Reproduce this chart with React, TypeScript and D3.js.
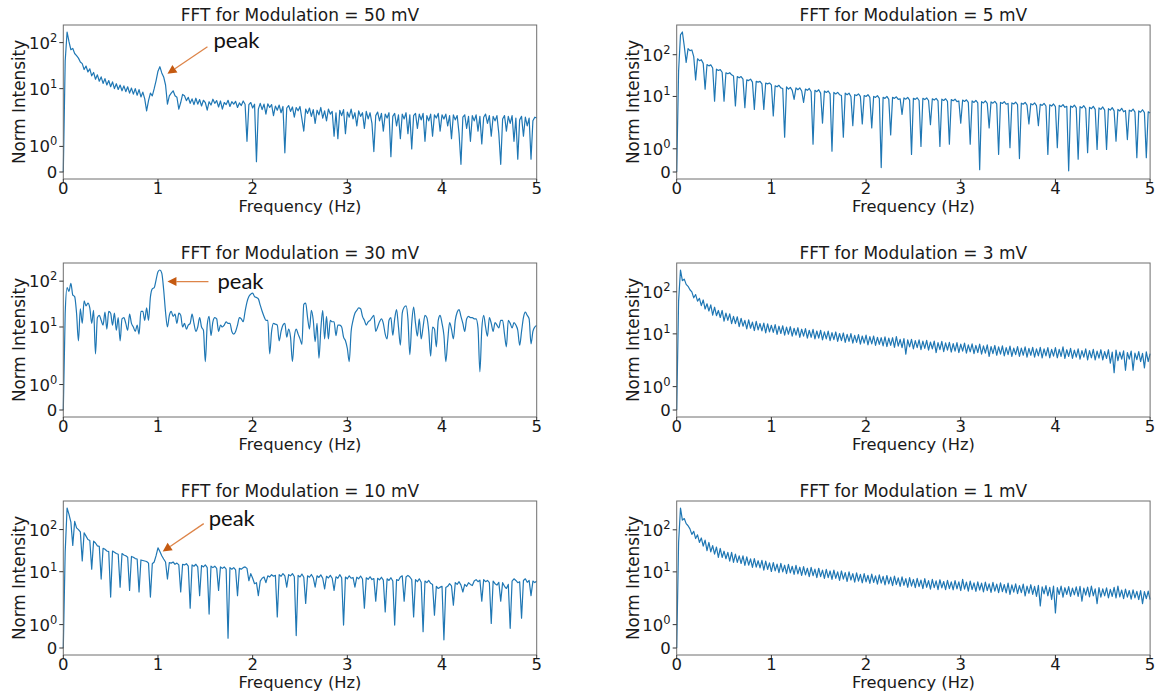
import React from "react";
import * as d3 from "d3";

// FFT bins are evenly spaced, 0 .. 5 Hz
const FREQ_STEP = 0.02;
const xTicks = [0, 1, 2, 3, 4, 5];
const yTicks = [0, 1, 10, 100];

// Norm intensity per bin
const mod50 = [
  0, 40, 170, 105, 70, 75, 58, 52, 46, 38,
  35, 26, 31, 23, 27, 19, 22.5, 16, 20, 14.5,
  18, 13, 16.5, 12, 15, 11, 14, 10, 12.8, 9.6,
  12, 9, 11.5, 8.6, 11, 8, 10.3, 7.6, 10, 7.2,
  9.5, 6.6, 8.4, 6, 3.3, 5.5, 8, 7, 10, 15,
  24, 30, 22, 18, 12, 4.6, 7, 8, 9, 7,
  6.5, 3.6, 5, 7.5, 7, 5.5, 6.5, 4.8, 6, 4.5,
  6.2, 4.6, 5.8, 4.2, 5.6, 5.0, 3.4, 5.2, 4.4, 5.9,
  4.8, 5.5, 4.0, 5.4, 3.6, 5.0, 4.5, 5.6, 4.1, 5.2,
  4.6, 5.3, 3.9, 4.9, 4.3, 5.4, 4.6, 1.2, 4.5, 5.0,
  3.8, 4.6, 0.4, 3.6, 4.8, 3.5, 4.6, 2.8, 4.7, 3.9,
  4.5, 2.6, 4.2, 3.4, 4.4, 3.0, 4.1, 0.75, 3.8, 4.3,
  3.2, 4.0, 2.4, 3.9, 3.3, 4.1, 2.2, 1.6, 3.6, 2.9,
  3.8, 2.5, 3.5, 1.9, 3.4, 2.7, 3.9, 2.3, 3.3, 2.0,
  3.6, 2.8, 3.2, 1.4, 3.0, 1.3, 3.4, 2.6, 3.5, 1.5,
  3.1, 2.4, 3.6, 2.2, 3.0, 1.8, 3.3, 2.5, 3.0, 1.7,
  3.2, 2.2, 3.0, 1.9, 0.8, 2.6, 3.1, 2.0, 2.9, 1.6,
  2.8, 2.3, 3.0, 0.6, 2.5, 2.9, 1.8, 2.7, 1.3, 2.8,
  2.2, 3.0, 1.5, 2.7, 0.9, 2.6, 2.9, 1.7, 2.8, 2.1,
  2.9, 1.2, 2.6, 2.0, 2.8, 1.4, 2.7, 2.3, 2.9, 1.6,
  2.7, 2.2, 2.8, 1.8, 2.6, 1.3, 2.7, 2.1, 2.6, 1.5,
  0.3, 2.4, 2.7, 1.7, 2.5, 1.2, 2.6, 2.0, 2.7, 1.6,
  2.5, 1.1, 2.4, 2.8, 1.9, 2.6, 1.4, 2.5, 2.0, 2.6,
  1.5, 0.3, 2.2, 2.6, 1.6, 2.5, 1.9, 2.6, 1.2, 2.3,
  0.5, 2.1, 2.5, 1.4, 2.4, 1.8, 2.3, 0.5, 2.0, 2.4,
  2.3,
];

const mod5 = [
  0, 40, 300, 350, 160, 65, 140, 125, 130, 90,
  25, 80, 72, 76, 62, 15, 58, 54, 57, 48,
  7.7, 45, 42, 44, 38, 7.7, 37, 35, 37, 33,
  31, 5.9, 30, 28, 30, 26, 5.4, 25, 24, 26,
  22, 4.9, 23, 22, 23, 20, 4.9, 21, 20, 21,
  19, 3.4, 18, 17, 18.5, 16, 15.5, 1.5, 17, 15,
  16.5, 14, 8.5, 16, 14.5, 16, 13.5, 7.2, 15, 14,
  15.5, 13, 1.2, 14, 13, 14.5, 12, 2.3, 13.5, 12.5,
  13.5, 11.5, 0.9, 12.5, 11.5, 12.5, 11, 10.5, 1.5, 12,
  11, 12, 10, 2.0, 11, 10.5, 11.5, 10, 2.2, 10.5,
  10, 11, 9.5, 1.9, 10, 9.5, 10.5, 9, 0.19, 9.5,
  9, 10, 8.5, 1.6, 9.5, 9, 9.8, 8.5, 8.8, 3.7,
  9.2, 8.6, 9.5, 8.2, 0.76, 9, 8.5, 9.3, 8, 1.1,
  9, 8.4, 9.2, 8, 2.1, 8.8, 8.2, 9, 7.8, 1.1,
  8.6, 8, 8.8, 7.6, 1.2, 8.4, 7.9, 8.6, 7.5, 7.8,
  2.3, 8.2, 7.6, 8.3, 7.2, 1.2, 7.8, 7.2, 8, 7,
  0.1, 7.5, 7, 7.8, 6.8, 1.9, 7.4, 6.9, 7.6, 6.6,
  0.76, 7.2, 6.8, 7.5, 6.5, 6.8, 1.05, 7, 6.6, 7.3,
  6.4, 0.58, 6.9, 6.5, 7.2, 6.2, 2.2, 6.7, 6.3, 7,
  6, 2.0, 6.5, 6.1, 6.8, 5.9, 0.76, 6.3, 5.9, 6.6,
  5.7, 1.05, 6.1, 5.7, 6.4, 5.5, 5.8, 0.05, 5.9, 5.5,
  6.2, 5.3, 0.55, 5.7, 5.3, 6, 5.1, 0.83, 5.5, 5.1,
  5.8, 4.9, 0.97, 5.3, 4.9, 5.6, 4.7, 0.97, 5.1, 4.7,
  5.4, 4.5, 1.33, 4.9, 4.5, 5.2, 4.3, 4.6, 1.4, 4.7,
  4.4, 5, 4.2, 0.62, 4.5, 4.2, 4.8, 4.1, 0.62, 4.3,
  4.0,
];

const mod30 = [
  0, 20, 72, 60, 90, 50, 46, 20, 5, 25,
  12, 37, 29, 33, 26, 12, 23, 2.6, 16, 18,
  14, 11, 21, 9, 22, 20, 11, 20, 8.5, 16,
  5, 15, 16, 12, 8.5, 19, 12, 10, 8, 11,
  7, 22, 22, 14, 26, 14, 45, 68, 72, 107,
  160, 175, 150, 65, 21, 10, 18, 22, 17, 19,
  12, 20, 18, 10, 12, 9, 11, 12, 19, 12,
  8, 10, 16, 10, 8.5, 1.9, 11, 17, 6.5, 13,
  16, 15, 8, 11, 10, 11, 13, 12, 12, 8,
  7, 8, 11, 16, 15, 13, 22, 35, 46, 52,
  55, 46, 44, 41, 30, 22, 17, 14, 14, 2.6,
  8, 12, 11.5, 11, 5, 8, 11, 12, 6, 9,
  6, 1.9, 6, 9, 7, 5.5, 4.2, 31, 33, 16,
  9, 23, 14, 4.8, 12, 2.1, 9, 23, 5.5, 17,
  5.5, 14, 13, 13, 6.5, 11, 11, 10, 6, 5,
  3.4, 1.9, 8, 14, 20, 23, 26, 25, 17, 14,
  11, 13, 14, 16, 18, 8, 10, 13, 15, 12,
  7, 5.5, 14, 16, 6.6, 15, 24, 10, 4, 20,
  27, 29, 15, 2.5, 12, 27, 12, 6.3, 15, 5.5,
  10, 18, 16, 8, 2.3, 10, 9, 3.7, 14, 18,
  12, 6.6, 1.9, 5, 12.5, 9, 5.5, 14, 21, 24,
  17, 12, 8, 15, 17, 16, 16, 15, 15, 9.5,
  1.5, 9, 18, 10, 6.3, 16, 12, 8, 12.5, 11,
  9.5, 14, 14, 7, 3.7, 14, 12, 9.5, 12.5, 11,
  8.5, 4, 8, 16, 21, 18, 15, 4.3, 8, 10,
  10.8,
];

const mod3 = [
  0, 60, 330, 185, 200, 150, 135, 112, 100, 72,
  86, 60, 70, 47, 64, 39, 52, 35, 49, 28,
  43, 27, 36, 24.5, 36, 20, 31, 21, 30, 17.5,
  26, 17.5, 25.5, 14.8, 23.5, 15.2, 21, 13.2, 21.5, 13.6,
  19, 12, 19.8, 12.4, 17.6, 11.8, 18, 10.6, 17.4, 11.2,
  16, 10.8, 16.6, 9.7, 15.2, 10.2, 15.6, 9.3, 14.4, 9.8,
  14.8, 8.8, 13.6, 9.3, 14, 8.3, 12.9, 8.8, 13.4, 7.9,
  12.2, 8.3, 12.8, 7.6, 11.7, 7.9, 12.2, 7.2, 11.2, 7.6,
  11.6, 6.9, 10.7, 7.3, 11.1, 6.6, 10.2, 6.9, 10.5, 6.3,
  9.7, 6.6, 10.1, 6.0, 9.2, 6.3, 9.6, 5.7, 8.9, 6.0,
  9.3, 5.5, 8.6, 5.8, 8.9, 5.3, 8.3, 5.6, 8.1, 5.2,
  8.5, 5.0, 7.9, 5.3, 8.1, 4.8, 8.6, 5.1, 7.4, 4.7,
  7.7, 3.3, 7.2, 4.9, 7.4, 4.4, 6.9, 4.7, 7.2, 4.2,
  6.7, 4.5, 7.0, 4.1, 6.4, 4.4, 6.7, 3.6, 6.2, 4.2,
  6.6, 3.8, 6.1, 4.1, 6.3, 3.7, 5.9, 3.9, 6.2, 3.6,
  5.7, 3.9, 6.0, 3.5, 5.5, 3.75, 5.8, 3.4, 5.3, 3.6,
  5.7, 3.3, 5.2, 3.5, 5.5, 2.9, 5.0, 3.4, 5.3, 3.1,
  4.9, 3.3, 5.2, 3.0, 4.7, 3.2, 5.1, 2.9, 4.6, 3.2,
  5.0, 2.9, 4.6, 3.1, 4.9, 2.8, 4.5, 3.1, 4.8, 2.8,
  4.4, 3.0, 4.8, 2.7, 4.4, 3.0, 4.7, 2.7, 4.3, 2.95,
  4.7, 2.7, 4.3, 2.9, 4.9, 2.6, 4.2, 2.9, 4.5, 2.6,
  4.1, 2.8, 4.4, 2.5, 4.0, 2.8, 4.4, 2.4, 4.0, 2.7,
  4.3, 2.4, 3.9, 2.65, 4.2, 2.4, 3.8, 2.6, 4.2, 2.0,
  3.7, 1.6, 4.1, 2.3, 3.7, 2.5, 3.95, 1.7, 3.6, 2.5,
  3.9, 1.7, 3.5, 2.45, 3.8, 2.2, 3.45, 1.8, 3.75, 2.2,
  3.4,
];

const mod10 = [
  0, 30, 325, 230, 150, 42, 156, 110, 100, 88,
  18, 84, 70, 58, 55, 11.5, 53, 48, 41, 40,
  6.7, 36, 34, 31, 30, 2.5, 31, 29, 27, 26,
  4.3, 27, 25, 24, 22, 3.6, 23, 22, 20.5, 20,
  3.3, 19, 18.5, 18, 17.5, 16, 2.5, 15.5, 17, 24,
  37, 30, 24, 20, 17, 6.7, 16.5, 16, 17, 15,
  16, 14.5, 3.3, 15, 14.5, 15.5, 13.5, 1.7, 14.5, 13.5,
  15, 13, 2.7, 14, 13, 14.5, 12.5, 1.45, 13.5, 12.5,
  13.5, 12, 3.6, 13, 12, 13, 11.5, 0.42, 12.5, 11.5,
  12.5, 11, 2.7, 12, 11.5, 12.5, 13, 12, 6.1, 9,
  7, 5.2, 5.5, 2.7, 6, 7, 7.5, 5.5, 8, 7.5,
  8.5, 7.8, 8.2, 1.33, 8.5, 7.8, 9, 8, 4.3, 8.5,
  8, 9, 7.6, 0.53, 8.2, 7.5, 8.8, 7.4, 1.9, 8,
  7.4, 8.6, 7.2, 4.3, 8, 7.3, 8.4, 7.0, 3.9, 7.8,
  7.1, 8.2, 7, 3.6, 7.6, 7, 8.5, 7.2, 0.98, 7.5,
  6.8, 8, 7, 7.3, 4.3, 7.4, 6.8, 7.9, 6.7, 1.7,
  7.2, 6.6, 7.6, 6.5, 6.9, 2.0, 7.0, 6.4, 7.4, 6.3,
  1.54, 6.8, 6.2, 7.2, 6.0, 0.98, 6.5, 6.2, 7.5, 8,
  2.0, 7.5, 8.2, 7.5, 6.5, 1.33, 6.5, 5.8, 6.8, 5.6,
  0.7, 6.0, 5.5, 6.2, 5.3, 5.0, 1.4, 4.5, 4.0, 4.3,
  4.5, 0.35, 4.2, 4.5, 5.2, 4.6, 1.83, 5.5, 5.0, 5.8,
  4.8, 3.3, 5.0, 4.5, 5.5, 5.0, 4.7, 6.0, 6.5, 5.8,
  6.3, 2.0, 6.5, 5.8, 6.2, 5.5, 1.05, 6.0, 5.2, 4.8,
  5.6, 2.0, 5.5, 4.5, 4.0, 5.0, 0.84, 6.0, 6.8, 6.2,
  5.5, 5.8, 1.27, 6.2, 6.8, 5.6, 6.2, 2.7, 6.0, 5.5,
  6.0,
];

const mod1 = [
  0, 50, 330, 170, 185, 140, 125, 105, 78, 92,
  62, 76, 50, 64, 41, 57, 32, 50, 30, 42,
  26.5, 39, 22, 36, 22, 31, 20.5, 29, 18, 29,
  16.8, 26.5, 16.8, 24, 15.8, 24, 14.2, 22.8, 14.4, 20.4,
  12.8, 20.6, 13, 18.4, 12.4, 18.8, 11, 18, 11.4, 16.3,
  10.2, 16.7, 10.6, 15.3, 9.6, 15.9, 10, 14.4, 9.1, 15,
  9.5, 13.6, 8.7, 14.3, 9.0, 12.9, 8.2, 13.4, 8.5, 12.2,
  7.7, 12.8, 8.1, 11.6, 7.3, 12.2, 7.7, 11, 7.0, 11.5,
  7.3, 10.5, 6.6, 11, 7.0, 10.0, 6.3, 10.5, 6.7, 9.6,
  5.9, 10.0, 6.4, 9.1, 5.7, 9.5, 6.0, 8.7, 5.5, 9.1,
  5.8, 8.3, 5.3, 8.8, 5.6, 8.0, 5.1, 8.5, 5.4, 7.8,
  4.9, 8.2, 5.2, 7.5, 4.7, 7.9, 5.0, 7.2, 4.5, 7.6,
  4.8, 6.9, 4.3, 7.3, 4.6, 6.6, 4.2, 7.0, 4.45, 6.4,
  4.0, 6.9, 4.3, 6.2, 3.9, 6.6, 4.2, 6.1, 3.8, 6.5,
  4.15, 5.9, 3.8, 6.3, 4.0, 5.8, 3.75, 6.2, 3.95, 5.8,
  3.6, 6.6, 3.9, 5.7, 3.5, 6.0, 3.8, 5.5, 3.45, 5.8,
  3.7, 5.4, 3.35, 5.7, 3.6, 5.2, 3.25, 5.6, 3.5, 5.1,
  3.2, 5.5, 3.4, 5.0, 3.15, 5.4, 2.9, 4.9, 3.3, 5.2,
  3.05, 4.7, 3.2, 5.1, 2.7, 4.6, 3.1, 4.95, 2.9, 4.5,
  2.6, 4.8, 1.8, 4.4, 3.0, 4.7, 2.7, 4.3, 2.2, 4.6,
  1.5, 4.2, 2.9, 4.6, 2.5, 4.2, 2.9, 4.45, 2.6, 4.1,
  2.85, 4.4, 2.6, 4.5, 2.0, 4.1, 2.8, 4.35, 2.55, 4.6,
  2.7, 3.95, 1.9, 4.25, 2.5, 3.95, 2.7, 4.15, 2.4, 3.85,
  2.6, 4.3, 2.4, 4.6, 2.55, 3.7, 2.3, 3.9, 2.5, 3.6,
  2.25, 3.75, 2.4, 3.45, 2.2, 3.6, 1.9, 3.4, 2.3, 3.5,
  2.2,
];

// layout of the 3 x 2 grid
const W = 1157;
const H = 695;
const colLeft = [63.3, 676.7];
const plotW = 473.4;
const rowTop = [25, 263, 501];
const plotH = 154;

const FONT = "DejaVu Sans, sans-serif";
const TEXT = "#1a1a1a";
const LINE = "#1f77b4";
const ARROW_LINE = "#dd8448";
const ARROW_HEAD = "#c55a11";

// matplotlib symlog (linthresh 2, linscale 1, base 10)
const LINTHRESH = 2;
const LINSCALE_ADJ = 1 / (1 - 1 / 10);
function symlog(v: number) {
  const a = Math.abs(v);
  if (a <= LINTHRESH) return v * LINSCALE_ADJ;
  return Math.sign(v) * LINTHRESH * (LINSCALE_ADJ + Math.log10(a / LINTHRESH));
}

const panels = [
  { title: "FFT for Modulation = 50 mV", values: mod50, col: 0, row: 0,
    note: { f: 1.1, v: 21, tail: [40, -27], text: [46, -26] } },
  { title: "FFT for Modulation = 5 mV", values: mod5, col: 1, row: 0 },
  { title: "FFT for Modulation = 30 mV", values: mod30, col: 0, row: 1, smooth: true,
    note: { f: 1.1, v: 98, tail: [41, 0], text: [50, 7] } },
  { title: "FFT for Modulation = 3 mV", values: mod3, col: 1, row: 1 },
  { title: "FFT for Modulation = 10 mV", values: mod10, col: 0, row: 2,
    note: { f: 1.05, v: 30, tail: [41, -28], text: [46, -26] } },
  { title: "FFT for Modulation = 1 mV", values: mod1, col: 1, row: 2 },
];

function YTickLabel({ v, x, y }: { v: number; x: number; y: number }) {
  if (v === 0) {
    return (
      <text x={x} y={y + 6} textAnchor="end" fontSize={16.5} fill={TEXT}>0</text>
    );
  }
  const exp = Math.round(Math.log10(v));
  return (
    <text x={x} y={y + 6} textAnchor="end" fontSize={16.5} fill={TEXT}>
      10<tspan dy={-7} fontSize={11.5}>{exp}</tspan>
    </text>
  );
}

function Annotation({ tipX, tipY, tail, text }: any) {
  const tx = tipX + tail[0];
  const ty = tipY + tail[1];
  const len = Math.hypot(tx - tipX, ty - tipY);
  const ux = (tx - tipX) / len;
  const uy = (ty - tipY) / len;
  const headLen = 9;
  const headW = 4.5;
  const bx = tipX + ux * headLen;
  const by = tipY + uy * headLen;
  const head = [
    [tipX, tipY],
    [bx - uy * headW, by + ux * headW],
    [bx + uy * headW, by - ux * headW],
  ];
  return (
    <g>
      <line x1={tx} y1={ty} x2={bx} y2={by} stroke={ARROW_LINE} strokeWidth={1.3} />
      <polygon points={head.map((p) => p.join(",")).join(" ")} fill={ARROW_HEAD} />
      <text x={tipX + text[0]} y={tipY + text[1]} fontFamily="Lato, sans-serif"
        fontSize={22} fill="#111">peak</text>
    </g>
  );
}

function Panel({ p }: { p: any }) {
  const x0 = colLeft[p.col];
  const y0 = rowTop[p.row];
  const freqs = p.values.map((_: number, i: number) => i * FREQ_STEP);
  const x = d3.scaleLinear().domain([0, 5]).range([x0, x0 + plotW]);
  const tv = p.values.map(symlog);
  const tMin = d3.min(tv) as number;
  const tMax = d3.max(tv) as number;
  const pad = (tMax - tMin) * 0.05;
  const yT = d3.scaleLinear().domain([tMin - pad, tMax + pad]).range([y0 + plotH, y0]);
  const y = (v: number) => yT(symlog(v));
  const line = d3
    .line<number>()
    .x((_, i) => x(freqs[i]))
    .y((d) => y(d))
    .curve(p.smooth ? d3.curveMonotoneX : d3.curveLinear);
  const cx = x0 + plotW / 2;

  return (
    <g fontFamily={FONT}>
      <path d={line(p.values) || ""} fill="none" stroke={LINE} strokeWidth={1.2}
        strokeLinejoin="round" />
      <rect x={x0} y={y0} width={plotW} height={plotH} fill="none" stroke="#6e6e6e"
        strokeWidth={1} />
      {xTicks.map((t) => (
        <g key={"x" + t}>
          <line x1={x(t)} x2={x(t)} y1={y0 + plotH} y2={y0 + plotH + 4} stroke="#333" />
          <text x={x(t)} y={y0 + plotH + 15} textAnchor="middle" fontSize={16.5} fill={TEXT}>
            {t}
          </text>
        </g>
      ))}
      {yTicks.map((t) => (
        <g key={"y" + t}>
          <line x1={x0 - 4} x2={x0} y1={y(t)} y2={y(t)} stroke="#333" />
          <YTickLabel v={t} x={x0 - 6} y={y(t)} />
        </g>
      ))}
      <text x={cx} y={y0 - 4.5} textAnchor="middle" fontSize={17} fill={TEXT}>
        {p.title}
      </text>
      <text x={cx} y={y0 + plotH + 33} textAnchor="middle" fontSize={16.3} fill={TEXT}>
        Frequency (Hz)
      </text>
      <text transform={`translate(${x0 - 38},${y0 + plotH / 2}) rotate(-90)`}
        textAnchor="middle" fontSize={16.8} fill={TEXT}>
        Norm Intensity
      </text>
      {p.note && (
        <Annotation tipX={x(p.note.f)} tipY={y(p.note.v)} tail={p.note.tail}
          text={p.note.text} />
      )}
    </g>
  );
}

export default function App() {
  return (
    <svg width={W} height={H} viewBox={`0 0 ${W} ${H}`}
      style={{ position: "absolute", left: 0, top: 0, display: "block", background: "#fff" }}>
      <rect width={W} height={H} fill="#fff" />
      {panels.map((p) => (
        <Panel key={p.title} p={p} />
      ))}
    </svg>
  );
}
